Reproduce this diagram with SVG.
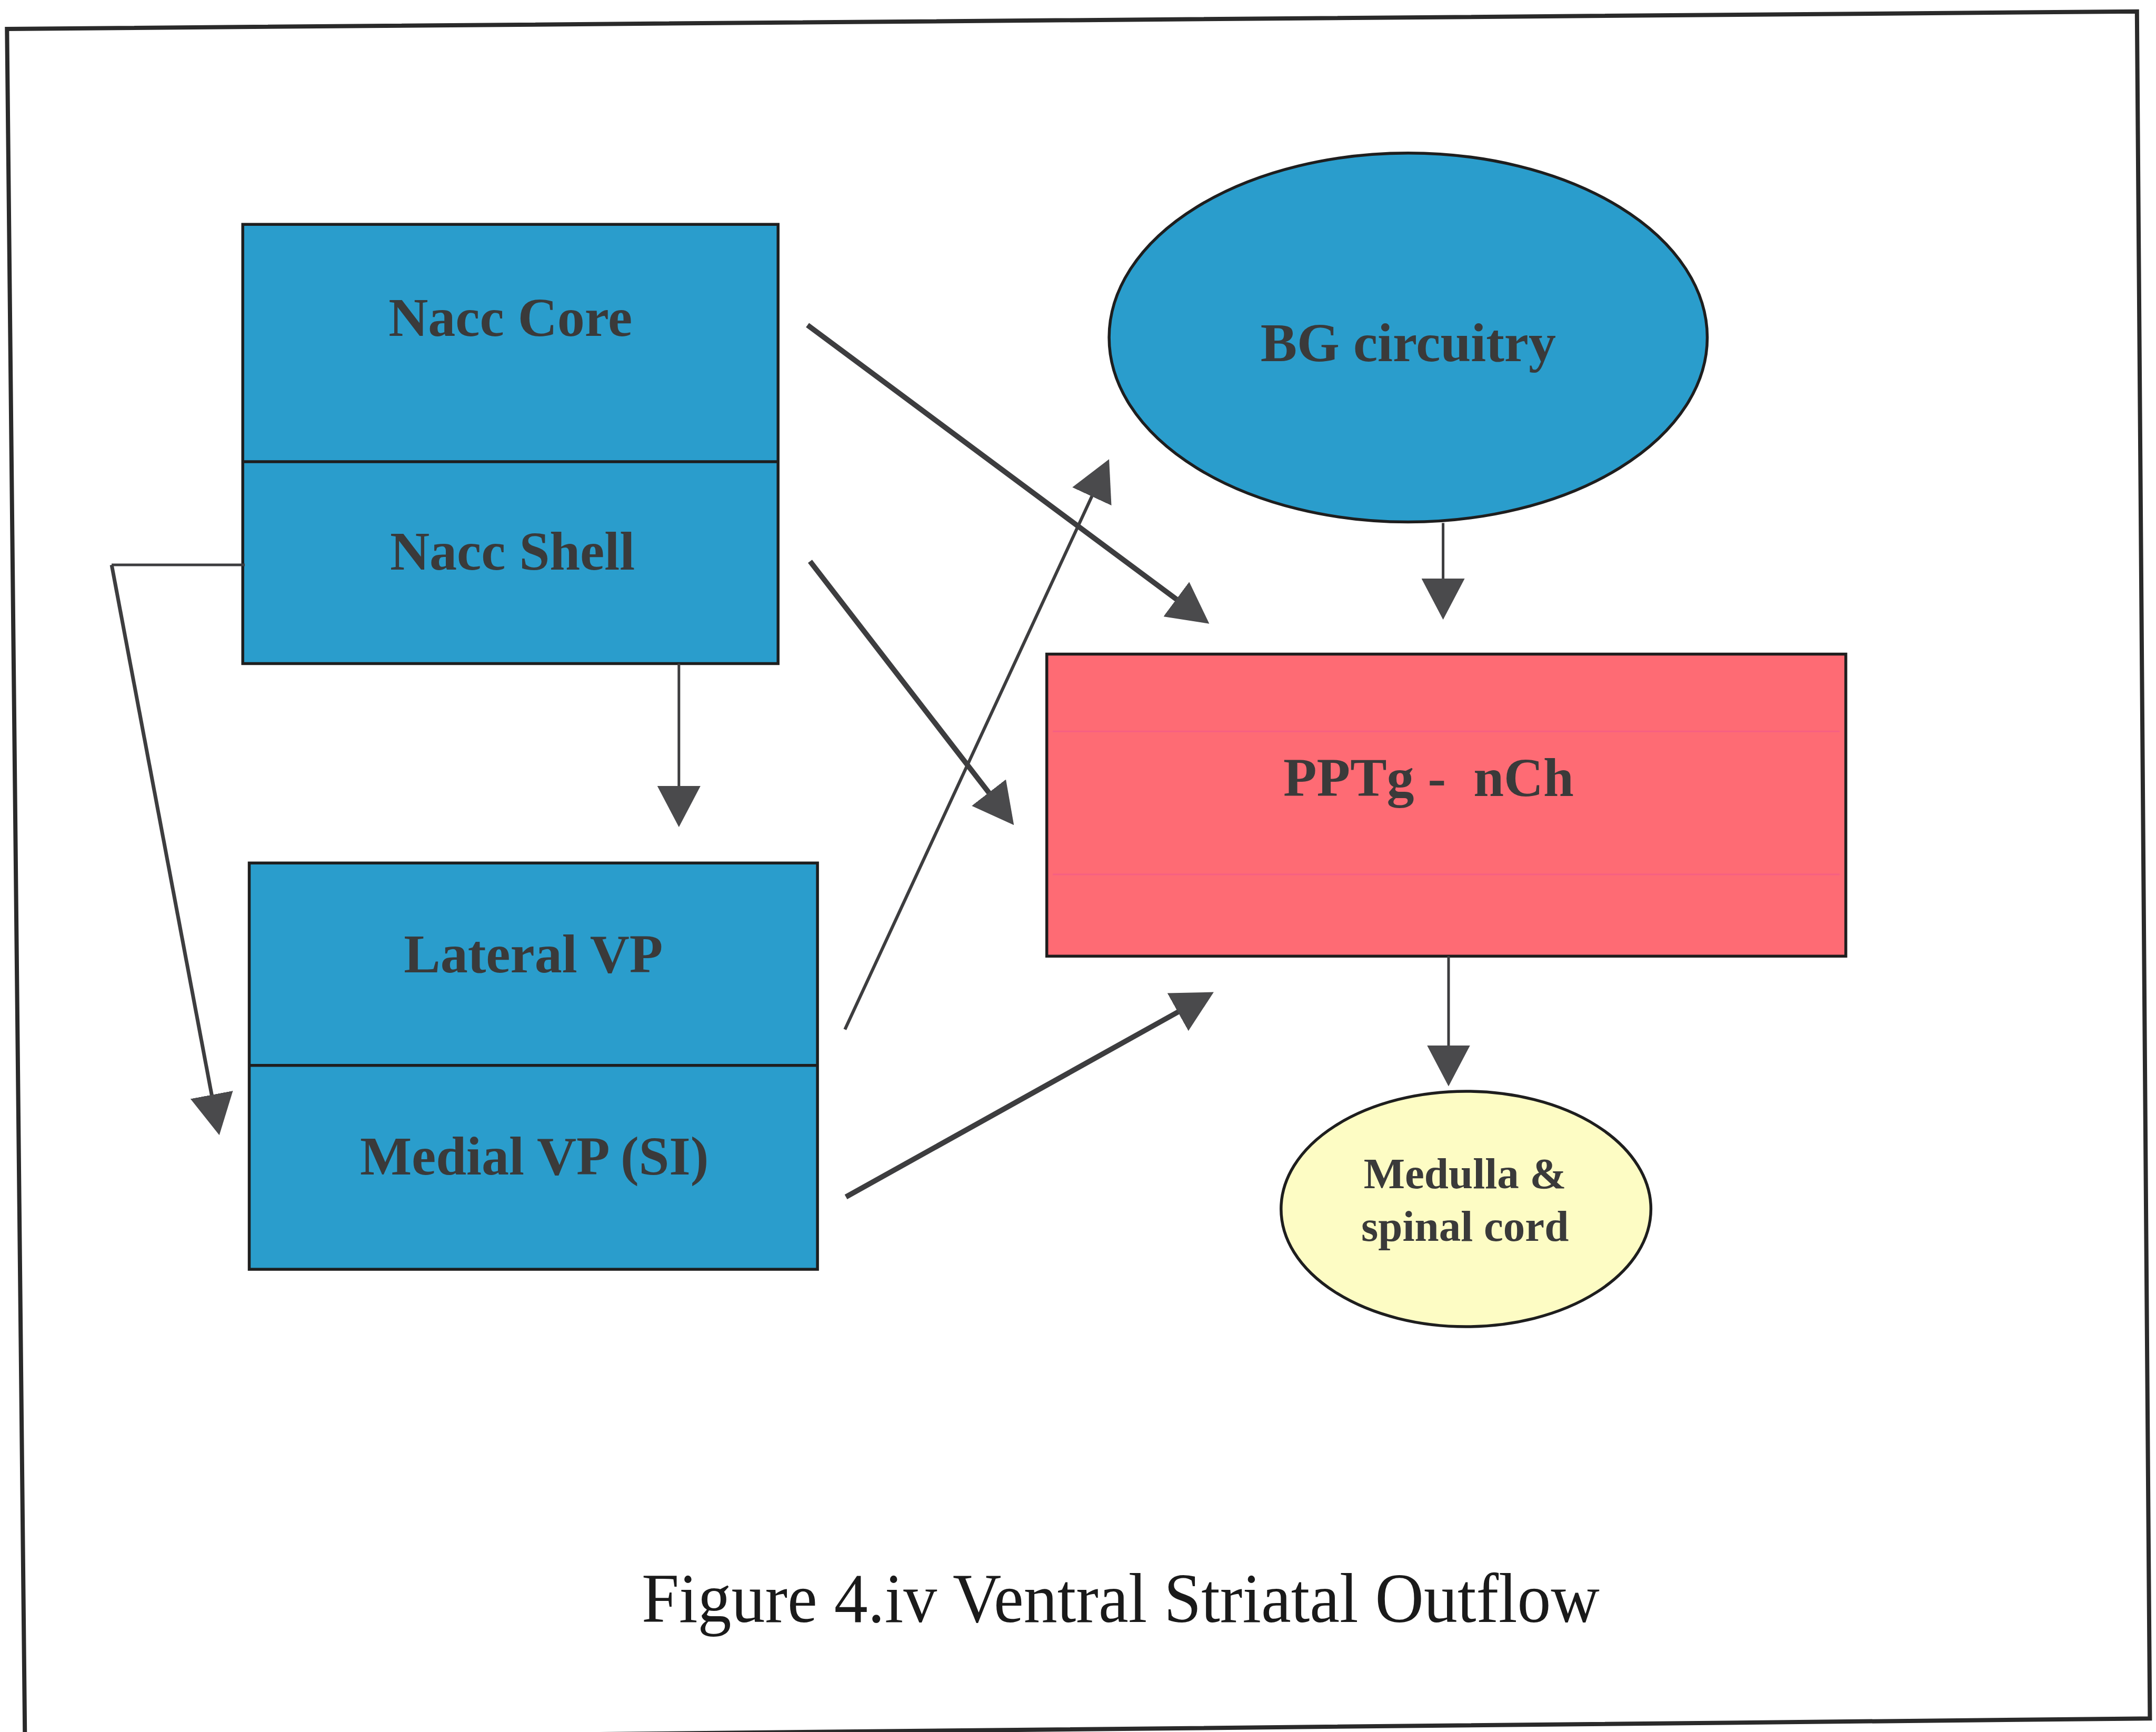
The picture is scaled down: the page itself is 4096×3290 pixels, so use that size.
<svg xmlns="http://www.w3.org/2000/svg" width="4096" height="3290" viewBox="0 0 4096 3290">
<defs>
<style>
.lbl{font-family:"Liberation Serif","Times New Roman",serif;font-weight:bold;fill:#3a3a3a;text-anchor:middle;white-space:pre}
.cap{font-family:"Liberation Serif","Times New Roman",serif;fill:#1a1a1a;text-anchor:middle}
.box{stroke:#1e1e1e;stroke-width:5.5}
.blue{fill:#2a9dcc}
.con{fill:none;stroke:#3d3d3f;stroke-linecap:butt;stroke-linejoin:miter}
</style>
<marker id="ah" markerUnits="userSpaceOnUse" viewBox="0 0 78 82" markerWidth="78" markerHeight="82" refX="6" refY="41" orient="auto">
<path d="M0,0 L78,41 L0,82 Z" fill="#4a4a4c"/>
</marker>
</defs>
<rect x="0" y="0" width="4096" height="3290" fill="#ffffff"/>
<polygon points="13.3,54.9 4059.8,21.8 4084.4,3264.3 47.4,3305" fill="none" stroke="#2a2a2a" stroke-width="8"/>

<g id="nacc">
<rect class="box blue" x="461.2" y="426.2" width="1017" height="834.3"/>
<line x1="461.2" y1="876.9" x2="1478.2" y2="876.9" stroke="#1e1e1e" stroke-width="5.5"/>
<text class="lbl" x="969.7" y="638.3" font-size="104">Nacc Core</text>
<text class="lbl" x="973.5" y="1082.4" font-size="104">Nacc Shell</text>
</g>

<g id="vp">
<rect class="box blue" x="473.5" y="1639.3" width="1079.6" height="771.8"/>
<line x1="473.5" y1="2023.7" x2="1553.1" y2="2023.7" stroke="#1e1e1e" stroke-width="5.5"/>
<text class="lbl" x="1013.3" y="1846.7" font-size="104">Lateral VP</text>
<text class="lbl" x="1015.2" y="2231.1" font-size="104">Medial VP (SI)</text>
</g>

<g id="bg">
<ellipse class="box blue" cx="2675.3" cy="641.1" rx="568.2" ry="350.4"/>
<text class="lbl" x="2675.3" y="685.6" font-size="104">BG circuitry</text>
</g>

<g id="pptg">
<rect class="box" x="1988.7" y="1242.5" width="1518" height="573.8" fill="#fe6b74"/>
<line x1="2000" y1="1389.2" x2="3495" y2="1389.2" stroke="#f25a8c" stroke-width="3" opacity="0.6"/>
<line x1="2000" y1="1661" x2="3495" y2="1661" stroke="#f25a8c" stroke-width="3" opacity="0.6"/>
<text class="lbl" x="2714" y="1512.4" font-size="104" xml:space="preserve">PPTg -  nCh</text>
</g>

<g id="medulla">
<ellipse class="box" cx="2785.1" cy="2296.5" rx="351.3" ry="223.5" fill="#fdfcc4"/>
<text class="lbl" x="2783.2" y="2256.7" font-size="83">Medulla &amp;</text>
<text class="lbl" x="2783.2" y="2357.1" font-size="83">spinal cord</text>
</g>

<g id="connectors">
<line class="con" x1="1534.1" y1="617.4" x2="2239.6" y2="1141.8" stroke-width="10" marker-end="url(#ah)"/>
<line class="con" x1="1538.9" y1="1066.3" x2="1882.2" y2="1510.3" stroke-width="10" marker-end="url(#ah)"/>
<line class="con" x1="1605.2" y1="1955.6" x2="2076.8" y2="937.5" stroke-width="6" marker-end="url(#ah)"/>
<line class="con" x1="1607.1" y1="2273.7" x2="2243.0" y2="1919.5" stroke-width="10" stroke="#1e1e1e" marker-end="url(#ah)"/>
<line class="con" x1="2741.6" y1="993.4" x2="2741.6" y2="1105.1" stroke-width="5" marker-end="url(#ah)"/>
<line class="con" x1="2752" y1="1816.3" x2="2752" y2="1991.5" stroke-width="5" marker-end="url(#ah)"/>
<line class="con" x1="1289.8" y1="1260.5" x2="1289.8" y2="1499.1" stroke-width="5" marker-end="url(#ah)"/>
<path class="con" d="M465,1073 L212.1,1073" stroke="#1e1e1e" stroke-width="5"/>
<path class="con" d="M212.1,1073 L403.3,2085.6" stroke-width="7" marker-end="url(#ah)"/>
</g>

<text class="cap" x="2128.9" y="3080.6" font-size="134" textLength="1820" lengthAdjust="spacingAndGlyphs">Figure 4.iv Ventral Striatal Outflow</text>
</svg>
